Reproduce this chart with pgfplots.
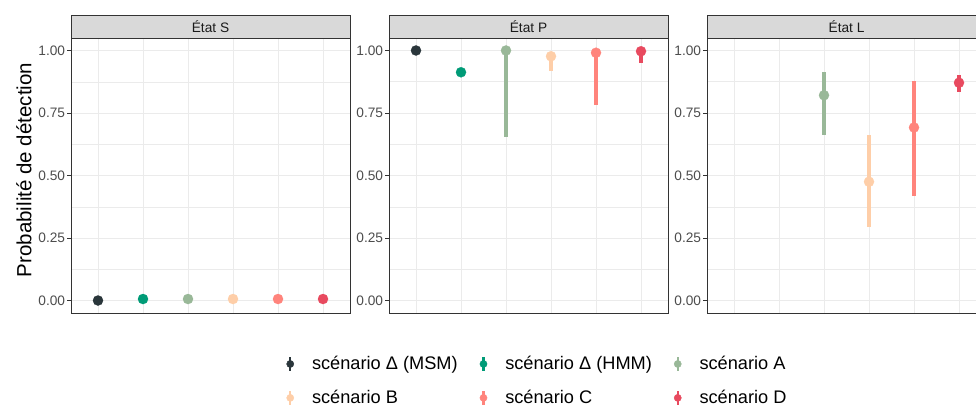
\documentclass[border=0pt]{standalone}
\usepackage{pgfplots}
\pgfplotsset{compat=1.18}
\usepackage{fontspec}
\setmainfont{Liberation Sans}

\definecolor{cMSM}{HTML}{2A363B}
\definecolor{cHMM}{HTML}{009B77}
\definecolor{cA}{HTML}{99B898}
\definecolor{cB}{HTML}{FECEA8}
\definecolor{cC}{HTML}{FF847C}
\definecolor{cD}{HTML}{E84A5F}
\definecolor{gridc}{HTML}{EBEBEB}
\definecolor{bordc}{HTML}{333333}
\definecolor{stripc}{HTML}{D9D9D9}
\definecolor{tickc}{HTML}{4D4D4D}
\definecolor{stript}{HTML}{1A1A1A}

\pgfplotsset{
  panel/.style={
    scale only axis, width=279pt, height=275pt, anchor=south west,
    xmin=0.4, xmax=6.6, ymin=-0.05, ymax=1.05,
    xtick={1,2,3,4,5,6}, xticklabels={}, x tick style={draw=none},
    ytick={0,0.25,0.5,0.75,1}, minor ytick={0.125,0.375,0.625,0.875},
    /pgf/number format/assume math mode=true,
    yticklabel={\pgfmathprintnumber[fixed,fixed zerofill,precision=2]{\tick}},
    yticklabel style={font=\fontsize{13.7}{16}\selectfont, text=tickc, inner sep=0pt, xshift=-2pt},
    grid=both,
    major grid style={color=gridc, line width=0.95pt},
    minor grid style={color=gridc, line width=0.5pt},
    axis line style={color=bordc, line width=0.8pt},
    tick align=outside, ytick pos=left, major tick length=3.7pt, minor tick length=0pt,
    y tick style={color=bordc, line width=0.8pt},
    clip=false,
    error bars/y dir=both, error bars/y explicit, error bars/error mark=none,
    error bars/error bar style={line width=3.1pt},
    table/row sep=\\,
    table/x=x, table/y=y,
    table/y error plus expr={\thisrow{hi}-\thisrow{y}},
    table/y error minus expr={\thisrow{y}-\thisrow{lo}},
  },
  pr/.style={only marks, mark=*, mark size=5.1pt, color=#1, mark options={fill=#1, draw=#1, line width=0.2pt}},
  lgimg/.style={legend image code/.code={
      \draw[line width=2.2pt] (0pt,-7pt) -- (0pt,7pt);
      \fill (0pt,0pt) circle (3.6pt);}},
}

\begin{document}
\begin{tikzpicture}
% ---------- État S ----------
\begin{axis}[panel, at={(71pt,95pt)},
  ylabel={Probabilité de détection},
  every axis y label/.style={at={(axis description cs:-0.1416,0.52)}, rotate=90, anchor=base, font=\fontsize{20.5}{24}\selectfont},
  legend columns=3, legend cell align=left,
  legend style={at={(axis description cs:1.672,-0.247)}, anchor=center, draw=none, fill=none,
    font=\fontsize{18.2}{21}\selectfont,
    /tikz/every odd column/.append style={column sep=16pt},
    /tikz/every even column/.append style={column sep=20pt},
    row sep=15pt},
]
\addplot[pr=cMSM, forget plot] table {x y lo hi\\ 1 0.000 0.000 0.000\\};
\addplot[pr=cHMM, forget plot] table {x y lo hi\\ 2 0.006 0.006 0.006\\};
\addplot[pr=cA, forget plot] table {x y lo hi\\ 3 0.006 0.006 0.006\\};
\addplot[pr=cB, forget plot] table {x y lo hi\\ 4 0.006 0.006 0.006\\};
\addplot[pr=cC, forget plot] table {x y lo hi\\ 5 0.006 0.006 0.006\\};
\addplot[pr=cD, forget plot] table {x y lo hi\\ 6 0.006 0.006 0.006\\};
\addlegendimage{cMSM, lgimg}\addlegendentry{scénario Δ (MSM)}
\addlegendimage{cHMM, lgimg}\addlegendentry{scénario Δ (HMM)}
\addlegendimage{cA, lgimg}\addlegendentry{scénario A}
\addlegendimage{cB, lgimg}\addlegendentry{scénario B}
\addlegendimage{cC, lgimg}\addlegendentry{scénario C}
\addlegendimage{cD, lgimg}\addlegendentry{scénario D}
\draw[fill=stripc, draw=bordc, line width=0.8pt] (rel axis cs:0,1) rectangle (rel axis cs:1,1.0836);
\node[anchor=base, font=\fontsize{13.7}{16}\selectfont, text=stript] at (rel axis cs:0.5,1.019) {État S};
\end{axis}
% ---------- État P ----------
\begin{axis}[panel, at={(389pt,95pt)}]
\addplot[pr=cMSM] table {x y lo hi\\ 1 1.000 1.000 1.000\\};
\addplot[pr=cHMM] table {x y lo hi\\ 2 0.913 0.913 0.913\\};
\addplot[pr=cA] table {x y lo hi\\ 3 1.000 0.653 1.000\\};
\addplot[pr=cB] table {x y lo hi\\ 4 0.977 0.917 0.995\\};
\addplot[pr=cC] table {x y lo hi\\ 5 0.991 0.784 1.000\\};
\addplot[pr=cD] table {x y lo hi\\ 6 0.997 0.948 1.000\\};
\draw[fill=stripc, draw=bordc, line width=0.8pt] (rel axis cs:0,1) rectangle (rel axis cs:1,1.0836);
\node[anchor=base, font=\fontsize{13.7}{16}\selectfont, text=stript] at (rel axis cs:0.5,1.019) {État P};
\end{axis}
% ---------- État L ----------
\begin{axis}[panel, at={(707pt,95pt)}]
\addplot[pr=cA] table {x y lo hi\\ 3 0.821 0.664 0.915\\};
\addplot[pr=cB] table {x y lo hi\\ 4 0.475 0.293 0.661\\};
\addplot[pr=cC] table {x y lo hi\\ 5 0.692 0.417 0.877\\};
\addplot[pr=cD] table {x y lo hi\\ 6 0.871 0.833 0.900\\};
\draw[fill=stripc, draw=bordc, line width=0.8pt] (rel axis cs:0,1) rectangle (rel axis cs:1,1.0836);
\node[anchor=base, font=\fontsize{13.7}{16}\selectfont, text=stript] at (rel axis cs:0.5,1.019) {État L};
\end{axis}
\pgfresetboundingbox
\useasboundingbox (0,0) rectangle (976pt,408pt);
\end{tikzpicture}
\end{document}
